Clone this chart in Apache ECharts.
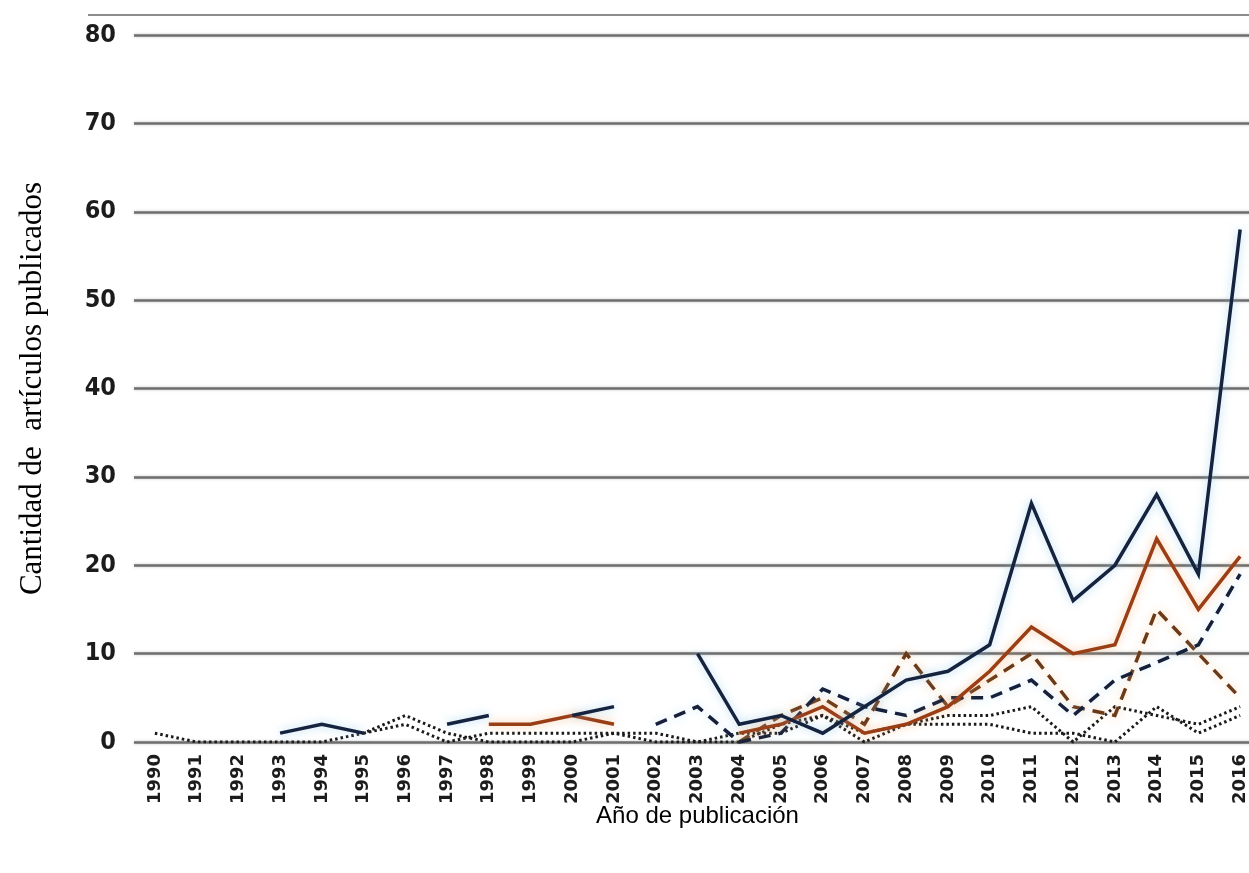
<!DOCTYPE html>
<html>
<head>
<meta charset="utf-8">
<script src="https://cdn.jsdelivr.net/npm/echarts@6/dist/echarts.min.js"></script>
<style>
  html, body { margin: 0; padding: 0; background: #ffffff; }
  #chart { width: 1249px; height: 873px; }
</style>
</head>
<body>
<div id="chart"></div>
<script>
// Años de publicación (eje X)
const years = ['1990','1991','1992','1993','1994','1995','1996','1997','1998','1999',
  '2000','2001','2002','2003','2004','2005','2006','2007','2008','2009',
  '2010','2011','2012','2013','2014','2015','2016'];

// Marcas del eje Y
const yTicks = { min: 0, max: 80, step: 10 };

// Artículos publicados por año (null = sin dato)
const serieTotal = [null, null, null, 1, 2, 1, null, 2, 3, null,
  3, 4, null, 10, 2, 3, 1, 4, 7, 8,
  11, 27, 16, 20, 28, 19, 58];

const serieNaranja = [null, null, null, null, null, null, null, null, 2, 2,
  3, 2, null, null, 1, 2, 4, 1, 2, 4,
  8, 13, 10, 11, 23, 15, 21];

const serieGuiones = [null, null, null, null, null, null, null, null, null, null,
  null, null, 2, 4, 0, 1, 6, 4, 3, 5,
  5, 7, 3, 7, 9, 11, 19];

const serieGuionesNaranja = [null, null, null, null, null, null, null, null, null, null,
  null, null, null, null, 0, 3, 5, 2, 10, 4,
  7, 10, 4, 3, 15, 10, 5];

const seriePuntosA = [1, 0, 0, 0, 0, 1, 3, 1, 0, 0,
  0, 1, 0, 0, 1, 1, 3, 1, 2, 3,
  3, 4, 0, 4, 3, 2, 4];

const seriePuntosB = [null, null, null, null, null, 1, 2, 0, 1, 1,
  1, 1, 1, 0, 0, 2, 3, 0, 2, 2,
  2, 1, 1, 0, 4, 1, 3];

const chart = echarts.init(document.getElementById('chart'), null, { renderer: 'canvas' });

function lineSeries(name, data, color, width, type, glow, z) {
  return {
    name: name,
    type: 'line',
    data: data,
    symbol: 'none',
    connectNulls: false,
    z: z,
    lineStyle: {
      color: color,
      width: width,
      type: type,
      cap: 'butt',
      join: 'miter',
      shadowColor: glow,
      shadowBlur: glow ? 10 : 0
    },
    emphasis: { disabled: true }
  };
}

chart.setOption({
  animation: false,
  backgroundColor: '#ffffff',
  // the plot runs slightly past the right edge, so the last year sits at the border
  grid: { left: 134, right: -12, top: 35, bottom: 131, containLabel: false, outerBoundsMode: 'none' },
  graphic: [{
    type: 'line',
    shape: { x1: 88, y1: 15, x2: 1249, y2: 15 },
    style: { stroke: '#8c8c8c', lineWidth: 2 }
  }],
  xAxis: {
    type: 'category',
    data: years,
    boundaryGap: true,
    axisLine: { show: false },
    axisTick: { show: false },
    axisLabel: {
      interval: 0,
      rotate: 90,
      margin: 12,
      color: '#1c1c1c',
      fontFamily: '"DejaVu Sans", sans-serif',
      fontWeight: 'bold',
      fontSize: 18
    },
    name: 'Año de publicación',
    nameLocation: 'middle',
    nameGap: 62,
    nameMoveOverlap: false,
    nameTextStyle: {
      fontFamily: '"Liberation Sans", Arial, sans-serif',
      fontSize: 24,
      color: '#000000'
    }
  },
  yAxis: {
    type: 'value',
    min: yTicks.min,
    max: yTicks.max,
    interval: yTicks.step,
    axisLine: { show: false },
    axisTick: { show: false },
    axisLabel: {
      margin: 18,
      color: '#1c1c1c',
      fontFamily: '"DejaVu Sans Condensed", "DejaVu Sans", sans-serif',
      fontWeight: 'bold',
      fontSize: 25
    },
    splitLine: {
      lineStyle: { color: '#6e6e6e', width: 2.5, shadowColor: 'rgba(0,0,0,0.25)', shadowBlur: 3 }
    },
    name: 'Cantidad de  artículos publicados',
    nameLocation: 'middle',
    nameGap: 86,
    nameRotate: 90,
    nameMoveOverlap: false,
    nameTextStyle: {
      fontFamily: '"Liberation Serif", "Times New Roman", serif',
      fontSize: 31,
      color: '#000000'
    }
  },
  series: [
    lineSeries('Puntos B', seriePuntosB, '#1a1a1a', 3, [2.5, 3], null, 2),
    lineSeries('Puntos A', seriePuntosA, '#1a1a1a', 3, [2.5, 3], null, 3),
    lineSeries('Guiones naranja', serieGuionesNaranja, '#6b3a18', 3.5, [12, 8], 'rgba(245,170,90,0.55)', 4),
    lineSeries('Guiones', serieGuiones, '#16203a', 3.5, [12, 8], 'rgba(130,200,235,0.45)', 5),
    lineSeries('Naranja', serieNaranja, '#9a3e16', 3.5, 'solid', 'rgba(245,160,90,0.6)', 6),
    lineSeries('Total', serieTotal, '#15233f', 3.5, 'solid', 'rgba(120,190,230,0.6)', 7)
  ]
});
</script>
</body>
</html>
